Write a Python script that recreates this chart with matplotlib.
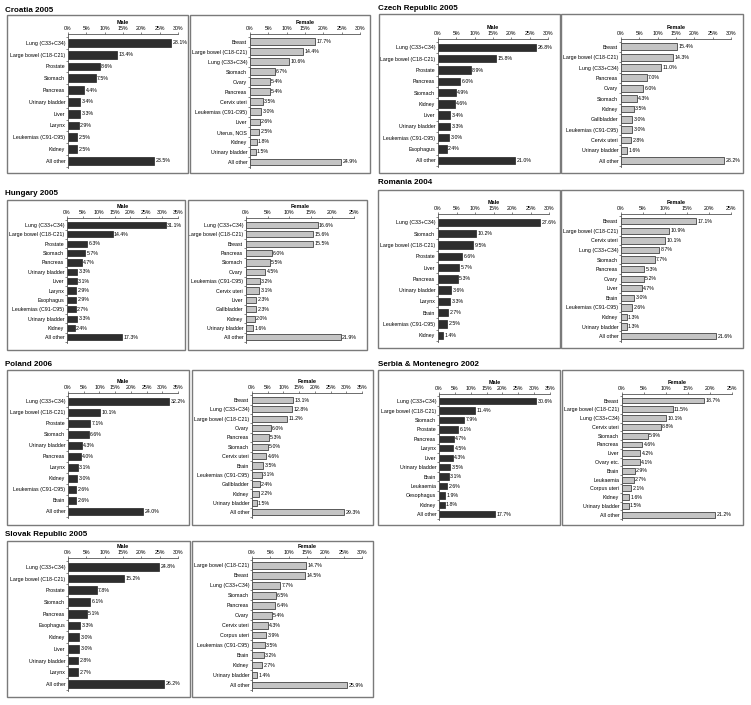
import matplotlib.pyplot as plt
from matplotlib.patches import Rectangle

plt.rcParams['font.family'] = ['Liberation Sans', 'DejaVu Sans']

W, H = 751, 705

# ---- data (percent of all cancer deaths) ----
croatia_male_sites = ['Lung (C33+C34)', 'Large bowel (C18-C21)', 'Prostate', 'Stomach', 'Pancreas',
                      'Urinary bladder', 'Liver', 'Larynx', 'Leukemias (C91-C95)', 'Kidney', 'All other']
croatia_male_pct = [28.1, 13.4, 8.6, 7.5, 4.4, 3.4, 3.3, 2.9, 2.5, 2.5, 23.5]
croatia_female_sites = ['Breast', 'Large bowel (C18-C21)', 'Lung (C33+C34)', 'Stomach', 'Ovary', 'Pancreas',
                        'Cervix uteri', 'Leukemias (C91-C95)', 'Liver', 'Uterus, NOS', 'Kidney',
                        'Urinary bladder', 'All other']
croatia_female_pct = [17.7, 14.4, 10.6, 6.7, 5.4, 5.4, 3.5, 3.0, 2.6, 2.5, 1.8, 1.5, 24.9]

czech_male_sites = ['Lung (C33+C34)', 'Large bowel (C18-C21)', 'Prostate', 'Pancreas', 'Stomach', 'Kidney',
                    'Liver', 'Urinary bladder', 'Leukemias (C91-C95)', 'Esophagus', 'All other']
czech_male_pct = [26.8, 15.8, 8.9, 6.0, 4.9, 4.6, 3.4, 3.3, 3.0, 2.4, 21.0]
czech_female_sites = ['Breast', 'Large bowel (C18-C21)', 'Lung (C33+C34)', 'Pancreas', 'Ovary', 'Stomach',
                      'Kidney', 'Gallbladder', 'Leukemias (C91-C95)', 'Cervix uteri', 'Urinary bladder',
                      'All other']
czech_female_pct = [15.4, 14.3, 11.0, 7.0, 6.0, 4.3, 3.5, 3.0, 3.0, 2.8, 1.6, 28.2]

hungary_male_sites = ['Lung (C33+C34)', 'Large bowel (C18-C21)', 'Prostate', 'Stomach', 'Pancreas',
                      'Urinary bladder', 'Liver', 'Larynx', 'Esophagus', 'Leukemias (C91-C95)',
                      'Urinary bladder', 'Kidney', 'All other']
hungary_male_pct = [31.1, 14.4, 6.3, 5.7, 4.7, 3.3, 3.1, 2.9, 2.9, 2.7, 3.3, 2.4, 17.3]
hungary_female_sites = ['Lung (C33+C34)', 'Large bowel (C18-C21)', 'Breast', 'Pancreas', 'Stomach', 'Ovary',
                        'Leukemias (C91-C95)', 'Cervix uteri', 'Liver', 'Gallbladder', 'Kidney',
                        'Urinary bladder', 'All other']
hungary_female_pct = [16.6, 15.6, 15.5, 6.0, 5.5, 4.5, 3.2, 3.1, 2.3, 2.3, 2.0, 1.6, 21.9]

romania_male_sites = ['Lung (C33+C34)', 'Stomach', 'Large bowel (C18-C21)', 'Prostate', 'Liver', 'Pancreas',
                      'Urinary bladder', 'Larynx', 'Brain', 'Leukemias (C91-C95)', 'Kidney']
romania_male_pct = [27.6, 10.2, 9.5, 6.6, 5.7, 5.3, 3.6, 3.3, 2.7, 2.5, 1.4]
romania_female_sites = ['Breast', 'Large bowel (C18-C21)', 'Cervix uteri', 'Lung (C33+C34)', 'Stomach',
                        'Pancreas', 'Ovary', 'Liver', 'Brain', 'Leukemias (C91-C95)', 'Kidney',
                        'Urinary bladder', 'All other']
romania_female_pct = [17.1, 10.9, 10.1, 8.7, 7.7, 5.3, 5.2, 4.7, 3.0, 2.6, 1.3, 1.3, 21.6]

poland_male_sites = ['Lung (C33+C34)', 'Large bowel (C18-C21)', 'Prostate', 'Stomach', 'Urinary bladder',
                     'Pancreas', 'Larynx', 'Kidney', 'Leukemias (C91-C95)', 'Brain', 'All other']
poland_male_pct = [32.2, 10.1, 7.1, 6.6, 4.3, 4.0, 3.1, 3.0, 2.6, 2.6, 24.0]
poland_female_sites = ['Breast', 'Lung (C33+C34)', 'Large bowel (C18-C21)', 'Ovary', 'Pancreas', 'Stomach',
                       'Cervix uteri', 'Brain', 'Leukemias (C91-C95)', 'Gallbladder', 'Kidney',
                       'Urinary bladder', 'All other']
poland_female_pct = [13.1, 12.8, 11.2, 6.0, 5.3, 5.0, 4.6, 3.5, 3.1, 2.4, 2.2, 1.5, 29.3]

serbia_male_sites = ['Lung (C33+C34)', 'Large bowel (C18-C21)', 'Stomach', 'Prostate', 'Pancreas', 'Larynx',
                     'Liver', 'Urinary bladder', 'Brain', 'Leukaemia', 'Oesophagus', 'Kidney', 'All other']
serbia_male_pct = [30.6, 11.4, 7.9, 6.1, 4.7, 4.5, 4.3, 3.5, 3.1, 2.6, 1.9, 1.8, 17.7]
serbia_female_sites = ['Breast', 'Large bowel (C18-C21)', 'Lung (C33+C34)', 'Cervix uteri', 'Stomach',
                       'Pancreas', 'Liver', 'Ovary etc.', 'Brain', 'Leukaemia', 'Corpus uteri', 'Kidney',
                       'Urinary bladder', 'All other']
serbia_female_pct = [18.7, 11.5, 10.1, 8.8, 5.9, 4.6, 4.2, 4.1, 2.9, 2.7, 2.1, 1.6, 1.5, 21.2]

slovak_male_sites = ['Lung (C33+C34)', 'Large bowel (C18-C21)', 'Prostate', 'Stomach', 'Pancreas',
                     'Esophagus', 'Kidney', 'Liver', 'Urinary bladder', 'Larynx', 'All other']
slovak_male_pct = [24.8, 15.2, 7.8, 6.1, 5.1, 3.3, 3.0, 3.0, 2.8, 2.7, 26.2]
slovak_female_sites = ['Large bowel (C18-C21)', 'Breast', 'Lung (C33+C34)', 'Stomach', 'Pancreas', 'Ovary',
                       'Cervix uteri', 'Corpus uteri', 'Leukemias (C91-C95)', 'Brain', 'Kidney',
                       'Urinary bladder', 'All other']
slovak_female_pct = [14.7, 14.5, 7.7, 6.5, 6.4, 5.4, 4.3, 3.9, 3.5, 3.2, 2.7, 1.4, 25.9]

fig = plt.figure(figsize=(W / 100, H / 100), dpi=100)


def box(x0, y0, x1, y1):
    fig.patches.append(Rectangle((x0 / W, 1 - y1 / H), (x1 - x0) / W, (y1 - y0) / H,
                                 transform=fig.transFigure, fill=False,
                                 edgecolor='#7a7a7a', linewidth=1.0))


def panel(sites, vals, xmax, sex, x0, x1, ytop, ybot, color):
    ax = fig.add_axes([x0 / W, 1 - ybot / H, (x1 - x0) / W, (ybot - ytop) / H])
    ax.patch.set_alpha(0)
    n = len(sites)
    ax.barh(range(n), vals, height=0.66, color=color, edgecolor='#222222', linewidth=0.5)
    for i, v in enumerate(vals):
        ax.text(v + xmax * 0.012, i, f'{v:.1f}%', va='center', ha='left', fontsize=3.8)
    ax.set_xlim(0, xmax)
    ax.set_ylim(n - 0.4, -0.75)
    ax.xaxis.tick_top()
    ticks = list(range(0, xmax + 1, 5))
    ax.set_xticks(ticks)
    ax.set_xticklabels([f'{t}%' for t in ticks])
    ax.set_yticks(range(n))
    ax.set_yticklabels(sites)
    ax.set_yticks([i + 0.5 for i in range(-1, n)], minor=True)
    ax.tick_params(axis='x', labelsize=3.8, length=1.5, width=0.5, pad=1, color='#555555')
    ax.tick_params(axis='y', which='major', labelsize=3.8, length=0, pad=2)
    ax.tick_params(axis='y', which='minor', length=1.5, width=0.5, color='#555555')
    for s in ['bottom', 'right']:
        ax.spines[s].set_visible(False)
    for s in ['top', 'left']:
        ax.spines[s].set_linewidth(0.6)
        ax.spines[s].set_color('#555555')
    ax.set_title(sex, fontsize=4, weight='bold', pad=7)
    return ax


MALE = '#2e2e2e'
FEMALE = '#c4c4c4'

# (title, title xy, male data, female data, male box, female box, male x-range, female x-range, y-range)
layout = [
    ('Croatia 2005', (5, 10), (croatia_male_sites, croatia_male_pct, 30), (croatia_female_sites, croatia_female_pct, 30),
     (7, 15, 188, 173), (190, 15, 370, 173), (68, 178), (250, 360), (34, 168)),
    ('Czech Republic 2005', (378, 9), (czech_male_sites, czech_male_pct, 30), (czech_female_sites, czech_female_pct, 30),
     (379, 14, 560, 173), (561, 14, 743, 173), (438, 548), (621, 731), (39, 167)),
    ('Hungary 2005', (5, 193), (hungary_male_sites, hungary_male_pct, 35), (hungary_female_sites, hungary_female_pct, 25),
     (7, 200, 185, 350), (188, 200, 367, 350), (67, 178), (246, 354), (218, 343)),
    ('Romania 2004', (378, 182), (romania_male_sites, romania_male_pct, 30), (romania_female_sites, romania_female_pct, 25),
     (378, 190, 560, 348), (561, 190, 743, 348), (438, 549), (621, 731), (214, 342)),
    ('Poland 2006', (5, 365), (poland_male_sites, poland_male_pct, 35), (poland_female_sites, poland_female_pct, 35),
     (7, 370, 189, 525), (192, 370, 373, 525), (68, 178), (252, 362), (393, 518)),
    ('Serbia & Montenegro 2002', (378, 364), (serbia_male_sites, serbia_male_pct, 35), (serbia_female_sites, serbia_female_pct, 25),
     (378, 370, 560, 525), (562, 370, 743, 525), (439, 550), (622, 732), (394, 520)),
    ('Slovak Republic 2005', (5, 534), (slovak_male_sites, slovak_male_pct, 30), (slovak_female_sites, slovak_female_pct, 30),
     (7, 541, 190, 697), (192, 541, 373, 697), (68, 178), (252, 362), (558, 691)),
]

for title, (tx, ty), male, female, mbox, fbox, mx, fxr, (yt, yb) in layout:
    fig.text(tx / W, 1 - ty / H, title, fontsize=5.8, weight='bold', va='center', ha='left')
    box(*mbox)
    box(*fbox)
    panel(male[0], male[1], male[2], 'Male', mx[0], mx[1], yt, yb, MALE)
    panel(female[0], female[1], female[2], 'Female', fxr[0], fxr[1], yt, yb, FEMALE)

fig.savefig('out.png', dpi=100)
